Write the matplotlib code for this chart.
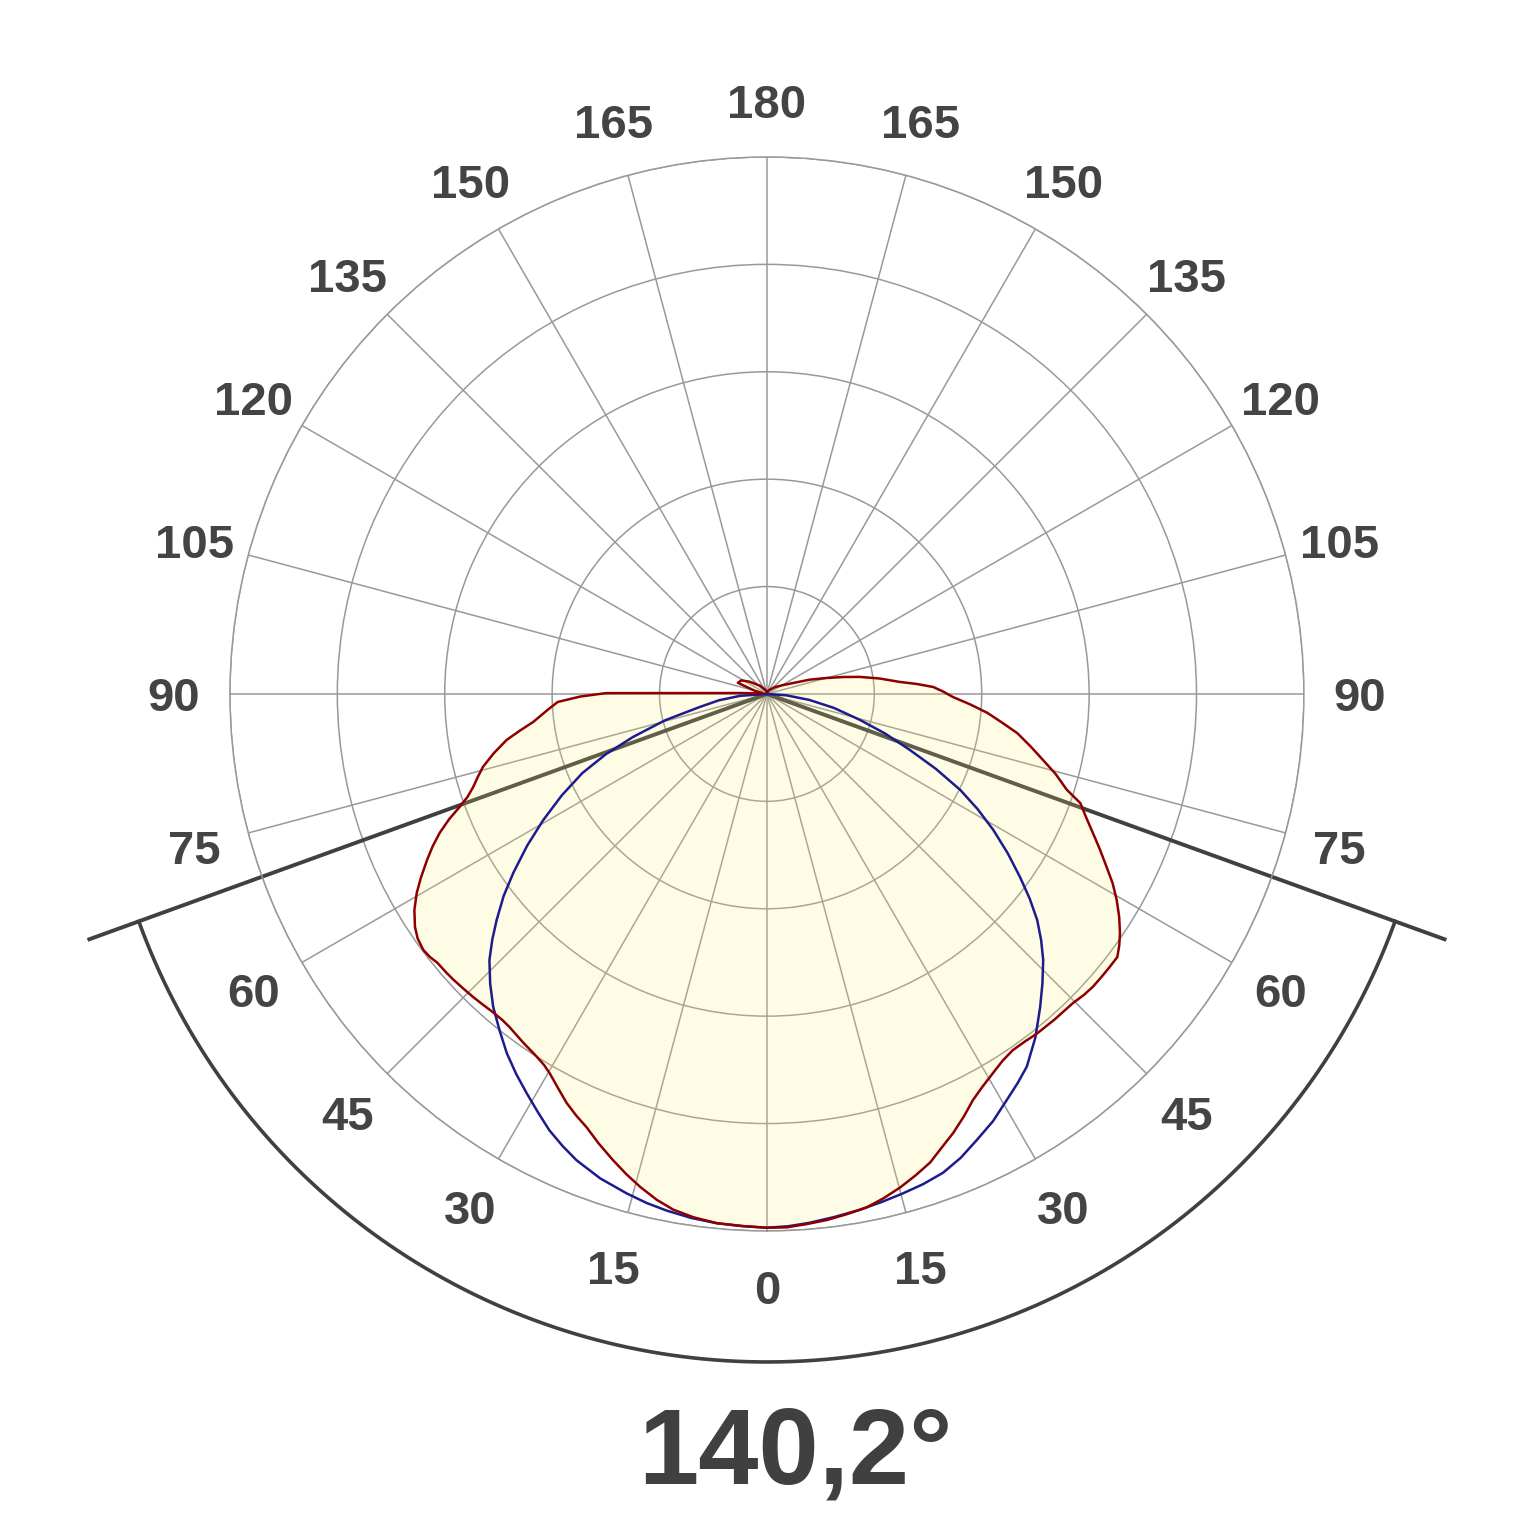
import numpy as np
import matplotlib
matplotlib.use("Agg")
import matplotlib.pyplot as plt
from matplotlib.transforms import offset_copy

plt.rcParams['font.family'] = ['Liberation Sans', 'DejaVu Sans']

# C0-C180 plane (red), angles in degrees, 0 = straight down, positive = right
red_ang = [-180, -160, -140, -125, -118, -111, -105, -100, -95, -92, -90.3, -89.2, -87.8, -85.8,
           -83.2, -81.5, -80, -77.8, -75.6, -74, -72.4, -71, -69.8, -68.5, -67, -65.5, -64, -62,
           -60.4, -58.5, -56.5, -55, -53.3, -52, -50.8, -49, -47.7, -46, -44.1, -42.5, -40.7, -39,
           -37.7, -35, -32.4, -31, -29.8, -28, -26.1, -24.3, -22.6, -20.5, -18.3, -16.3, -14.4,
           -12.3, -10.3, -8, -5.4, -2.5, 0,
           2.1, 4.3, 6.5, 8.8, 11, 13, 15.1, 17.2, 19.2, 21, 23, 25, 26.9, 28.8, 30.8, 32.7, 34.6,
           36.5, 38.5, 41.5, 44.7, 46.5, 48.1, 50, 51.5, 53.1, 54.5, 55.9, 57.7, 59.5, 61.3, 63,
           65, 66.9, 68.8, 70.8, 72.3, 74.5, 76.6, 78.8, 81.1, 83, 85.1, 87, 89.1, 90.8, 92.4,
           93.8, 95.2, 97.8, 100.4, 102.5, 104.9, 108.5, 112.9, 120, 130, 145, 180]
red_val = [0.02, 0.04, 0.10, 0.20, 0.27, 0.29, 0.12, 0.04, 0.05, 0.25, 1.50, 1.74, 1.95, 2.05,
           2.19, 2.33, 2.46, 2.60, 2.73, 2.80, 2.87, 2.95, 3.05, 3.18, 3.31, 3.42, 3.52, 3.65,
           3.75, 3.85, 3.93, 3.97, 3.99, 3.98, 3.96, 3.955, 3.95, 3.94, 3.93, 3.92, 3.91, 3.91,
           3.92, 3.96, 4.00, 4.03, 4.07, 4.15, 4.24, 4.31, 4.37, 4.47, 4.57, 4.66, 4.74,
           4.82, 4.88, 4.92, 4.95, 4.96, 4.97,
           4.97, 4.95, 4.93, 4.90, 4.87, 4.82, 4.76, 4.69, 4.62, 4.53, 4.44, 4.34, 4.24, 4.17, 4.11, 4.06, 4.03,
           4.03, 4.04, 4.045, 4.05, 4.07, 4.08, 4.08, 4.08, 4.08, 4.03, 3.97, 3.88, 3.78, 3.67, 3.55,
           3.42, 3.30, 3.19, 3.09, 2.93, 2.79, 2.64, 2.50, 2.36, 2.21, 2.06, 1.90, 1.73, 1.64, 1.55,
           1.40, 1.24, 1.06, 0.88, 0.73, 0.58, 0.42, 0.26, 0.16, 0.10, 0.05, 0.02]

# C90-C270 plane (blue)
blue_ang = [-90, -86, -82.5, -79, -75.5, -72.2, -69.5, -66.8, -63.7, -60.6, -57.7, -54.8, -52.5,
            -50.1, -48.2, -46.2, -43.7, -41.2, -38.5, -35.9, -33.4, -31, -28.7, -26.5, -24.3,
            -22.2, -19, -15.7, -13.3, -11, -8.2, -5.4, -2.7, 0,
            2.3, 4.6, 7.4, 10.2, 12.7, 15.2, 17.7, 20.2, 22.7, 25.2, 27.9, 30.6, 32.8, 34.9, 38,
            41.1, 43.6, 46.1, 48.1, 50.1, 52.1, 54.1, 56.5, 59, 61.3, 63.6, 66.1, 68.6, 71.5,
            74.4, 78.2, 82, 86, 90]
blue_val = [0.0, 0.25, 0.45, 0.64, 0.98, 1.31, 1.60, 1.87, 2.13, 2.39, 2.64, 2.89, 3.09,
            3.28, 3.43, 3.58, 3.73, 3.87, 4.00, 4.13, 4.24, 4.34, 4.44, 4.54, 4.62,
            4.69, 4.77, 4.83, 4.87, 4.90, 4.93, 4.95, 4.96, 4.97,
            4.96, 4.94, 4.91, 4.88, 4.85, 4.82, 4.79, 4.75, 4.68, 4.59, 4.50, 4.39, 4.31, 4.23, 4.06,
            3.87, 3.72, 3.57, 3.43, 3.28, 3.10, 2.91, 2.69, 2.46, 2.24, 2.01, 1.72, 1.43, 1.16,
            0.90, 0.64, 0.40, 0.18, 0.0]

beam_angle = 140.2
tick_angles = list(range(0, 181, 15))

fig = plt.figure(figsize=(15.36, 15.36), dpi=100)
ax = fig.add_axes([0.1497, 0.1986, 0.6992, 0.6992], projection='polar')
ax.set_theta_zero_location('S')
ax.set_theta_direction(1)
ax.set_rlim(0, 5)
ax.set_rticks([1, 2, 3, 4, 5])
ax.set_yticklabels([])
ax.set_thetagrids(np.arange(0, 360, 15), labels=[])
ax.grid(color='#999999', lw=1.1)
ax.spines['polar'].set_color('#999999')
ax.spines['polar'].set_linewidth(1.1)

# beam angle lines and arc
half = np.radians(beam_angle / 2)
for s in (-1, 1):
    ax.plot([0, s * half], [0, 6.71], color='#404040', lw=2.8, clip_on=False, zorder=2)
arc_t = np.linspace(-half, half, 300)
ax.plot(arc_t, np.full_like(arc_t, 6.22), color='#404040', lw=2.6, clip_on=False, zorder=2)

ax.fill(np.radians(red_ang), red_val, color='#fff36c', alpha=0.17, lw=0, zorder=3)
ax.plot(np.radians(blue_ang), blue_val, color='#1c1c8e', lw=1.8, zorder=4)
ax.plot(np.radians(red_ang), red_val, color='#8e0000', lw=1.8, zorder=5)

lab_tr = offset_copy(ax.transData, fig=fig, x=0, y=-5, units='dots')
for a in tick_angles:
    for s in ((1,) if a in (0, 180) else (1, -1)):
        ax.text(np.radians(s * a), 5.52, str(a), ha='center', va='center', transform=lab_tr,
                fontsize=34, fontweight='bold', color='#444444', clip_on=False)

fig.text(795 / 1536, 0.0345, "140,2°", ha='center', va='baseline',
         fontsize=78, fontweight='bold', color='#404040')

fig.savefig('out.png', dpi=100)
